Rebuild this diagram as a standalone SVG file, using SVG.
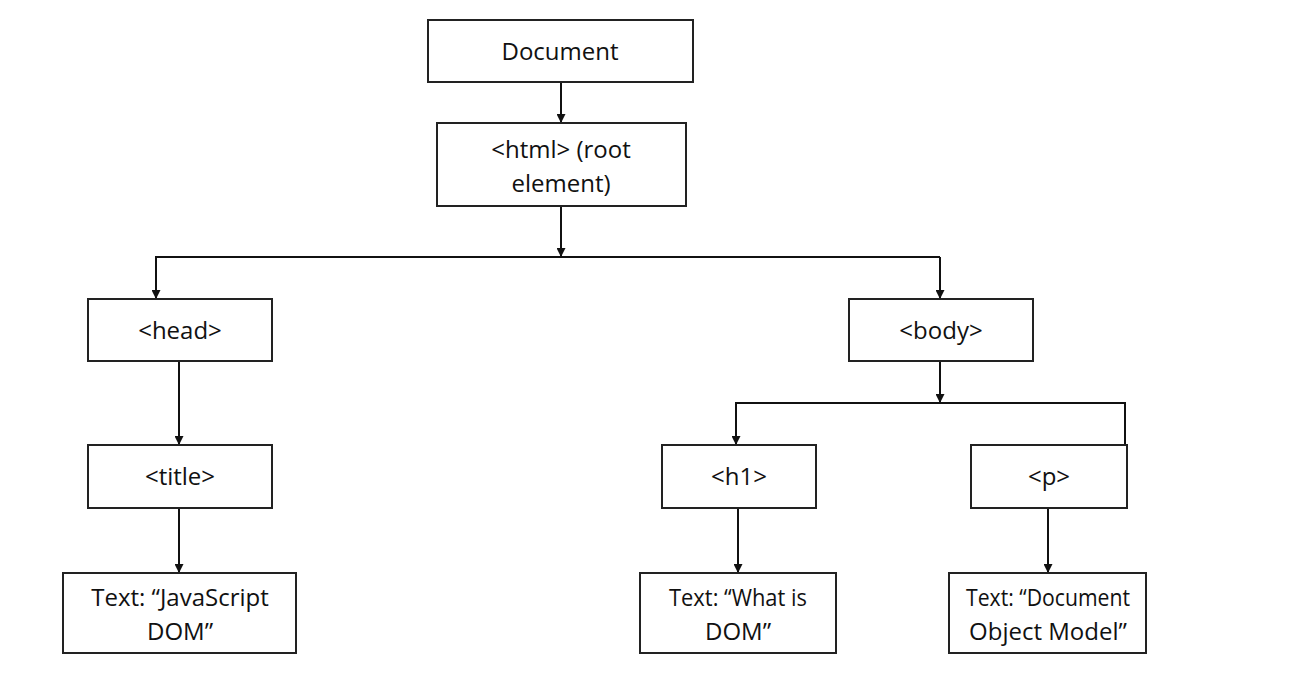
<svg xmlns="http://www.w3.org/2000/svg" width="1300" height="680" viewBox="0 0 1300 680">
<style>
.box{fill:#fff;stroke:#222;stroke-width:2}
.lbl{font-family:"Open Sans","Liberation Sans",sans-serif;font-size:24px;fill:#111;text-anchor:middle}
.con{fill:none;stroke:#111;stroke-width:2}
</style>
<defs>
<marker id="arr" viewBox="0 0 10 10" refX="10" refY="5" markerWidth="9" markerHeight="9" markerUnits="userSpaceOnUse" orient="auto">
<path d="M0,0 L10,5 L0,10 Z" fill="#111"/>
</marker>
</defs>
<rect width="1300" height="680" fill="#fff"/>
<g id="connectors">
<line class="con" x1="561" y1="82" x2="561" y2="123" marker-end="url(#arr)"/>
<line class="con" x1="561" y1="206" x2="561" y2="257" marker-end="url(#arr)"/>
<polyline class="con" points="940,257 156,257 156,299" marker-end="url(#arr)"/>
<line class="con" x1="940" y1="257" x2="940" y2="299" marker-end="url(#arr)"/>
<line class="con" x1="179" y1="361" x2="179" y2="445" marker-end="url(#arr)"/>
<line class="con" x1="179" y1="508" x2="179" y2="573" marker-end="url(#arr)"/>
<line class="con" x1="940" y1="361" x2="940" y2="403" marker-end="url(#arr)"/>
<polyline class="con" points="1125,445 1125,403 736,403 736,445" marker-end="url(#arr)"/>
<line class="con" x1="738" y1="508" x2="738" y2="573" marker-end="url(#arr)"/>
<line class="con" x1="1048" y1="508" x2="1048" y2="573" marker-end="url(#arr)"/>
</g>
<g id="document"><rect class="box" x="428" y="20" width="265" height="62"/><text class="lbl" x="560" y="60">Document</text></g>
<g id="html"><rect class="box" x="437" y="123" width="249" height="83"/><text class="lbl" x="561" y="158">&lt;html&gt; (root</text><text class="lbl" x="561" y="192">element)</text></g>
<g id="head"><rect class="box" x="88" y="299" width="184" height="62"/><text class="lbl" x="180" y="339">&lt;head&gt;</text></g>
<g id="body"><rect class="box" x="849" y="299" width="184" height="62"/><text class="lbl" x="941" y="339">&lt;body&gt;</text></g>
<g id="title"><rect class="box" x="88" y="445" width="184" height="63"/><text class="lbl" x="180" y="485">&lt;title&gt;</text></g>
<g id="h1"><rect class="box" x="662" y="445" width="154" height="63"/><text class="lbl" x="739" y="485">&lt;h1&gt;</text></g>
<g id="p"><rect class="box" x="971" y="445" width="156" height="63"/><text class="lbl" x="1049" y="485">&lt;p&gt;</text></g>
<g id="text-js"><rect class="box" x="63" y="573" width="233" height="80"/><text class="lbl" x="180" y="606">Text: “JavaScript</text><text class="lbl" x="180" y="640">DOM”</text></g>
<g id="text-what"><rect class="box" x="640" y="573" width="196" height="80"/><text class="lbl" x="738" y="606" textLength="138" lengthAdjust="spacingAndGlyphs">Text: “What is</text><text class="lbl" x="738" y="640">DOM”</text></g>
<g id="text-dom"><rect class="box" x="949" y="573" width="197" height="80"/><text class="lbl" x="1048" y="606" textLength="164" lengthAdjust="spacingAndGlyphs">Text: “Document</text><text class="lbl" x="1048" y="640">Object Model”</text></g>
</svg>
